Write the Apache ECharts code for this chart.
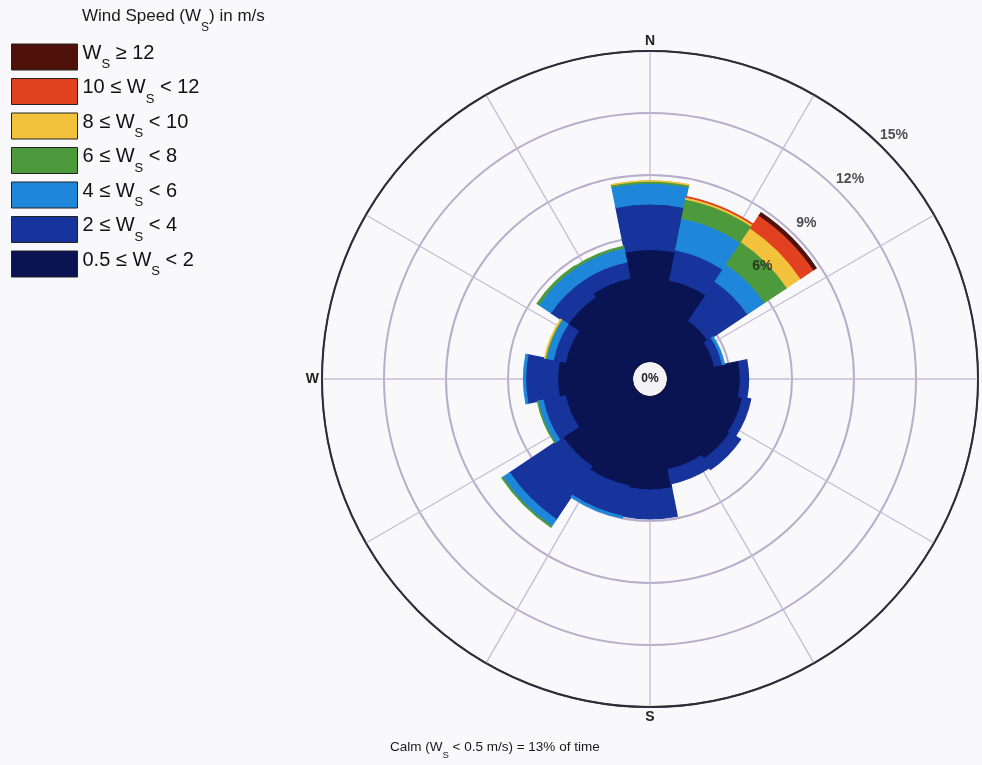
<!DOCTYPE html>
<html>
<head>
<meta charset="utf-8">
<script src="https://cdn.jsdelivr.net/npm/echarts@6/dist/echarts.min.js"></script>
<style>
  html, body { margin: 0; padding: 0; background: #f9f9fb; }
  #chart { width: 982px; height: 765px; }
</style>
</head>
<body>
<div id="chart"></div>
<script>
// Wind directions (16 sectors, clockwise from north)
const directions = ['N', 'NNE', 'NE', 'ENE', 'E', 'ESE', 'SE', 'SSE',
                    'S', 'SSW', 'SW', 'WSW', 'W', 'WNW', 'NW', 'NNW'];

// Frequency (% of time) of each speed band per direction
const ws_0_5to2 = [5.4, 4.0, 2.5, 2.3, 3.5, 3.7, 3.8, 3.6, 4.5, 4.4, 4.2, 3.3, 3.6, 3.3, 3.9, 4.1];
const ws_2to4   = [2.2, 1.5, 2.3, 0.4, 0.4, 0.4, 0.6, 0.7, 1.4, 1.5, 3.1, 1.1, 1.55, 0.6, 1.0, 0.8];
const ws_4to6   = [1.0, 1.56, 1.0, 0.1, 0, 0, 0, 0, 0, 0.1, 0.4, 0.25, 0.1, 0.35, 0.7, 0.7];
const ws_6to8   = [0.1, 0.94, 1.3, 0, 0, 0, 0, 0, 0, 0, 0.05, 0.03, 0, 0.05, 0.1, 0.08];
const ws_8to10  = [0.02, 0.1, 0.8, 0, 0, 0, 0, 0, 0, 0, 0, 0, 0, 0.03, 0, 0];
const ws_10to12 = [0, 0.03, 0.75, 0, 0, 0, 0, 0, 0, 0, 0, 0, 0, 0, 0, 0];
const ws_12up   = [0, 0, 0.15, 0, 0, 0, 0, 0, 0, 0, 0, 0, 0, 0, 0, 0];

// Calm share and ring labels
const calmPercent = 13;
const ringLabels = [6, 9, 12, 15];
const compassAngles = [0, 90, 180, 270];
const compassNames = ['N', 'E', 'S', 'W'];

// Band names and their legend text (S as subscript)
const bandNames = ['0.5-2', '2-4', '4-6', '6-8', '8-10', '10-12', '12+'];
const bandLegend = [
  '{t|0.5 ≤ W}{s|S}{t| < 2}',
  '{t|2 ≤ W}{s|S}{t| < 4}',
  '{t|4 ≤ W}{s|S}{t| < 6}',
  '{t|6 ≤ W}{s|S}{t| < 8}',
  '{t|8 ≤ W}{s|S}{t| < 10}',
  '{t|10 ≤ W}{s|S}{t| < 12}',
  '{t|W}{s|S}{t| ≥ 12}'
];
const bandData = [ws_0_5to2, ws_2to4, ws_4to6, ws_6to8, ws_8to10, ws_10to12, ws_12up];
const bandColors = ['#0b1452', '#17339c', '#1e87d9', '#4d9a3d', '#f2c23c', '#e2411f', '#4f120b'];

// Layout
const CX = 650, CY = 379, R_IN = 18, R_OUT = 328;
const FONT = 'Liberation Sans, Arial, sans-serif';

const chart = echarts.init(document.getElementById('chart'));

const barSeries = bandNames.map((name, i) => ({
  name: name,
  type: 'bar',
  coordinateSystem: 'polar',
  polarIndex: 1,
  stack: 'speed',
  // empty cells are left out so they draw no outline
  data: bandData[i].map(v => (v > 0 ? v : '-')),
  barCategoryGap: '0%',
  // border in the fill colour closes the hairline seams between sectors
  itemStyle: { color: bandColors[i], borderColor: bandColors[i], borderWidth: 1.2 },
  silent: true
}));

const legendText = {};
bandNames.forEach((n, i) => { legendText[n] = bandLegend[i]; });

const option = {
  backgroundColor: '#f9f9fb',
  animation: false,
  title: [
    {
      text: '{t|Wind Speed (W}{s|S}{t|) in m/s}',
      left: 82, top: 8, padding: 0,
      textStyle: {
        fontWeight: 'normal',
        rich: {
          t: { fontFamily: FONT, fontSize: 17, fontWeight: 'normal', color: '#1a1a1a', lineHeight: 26, verticalAlign: 'top' },
          s: { fontFamily: FONT, fontSize: 12, fontWeight: 'normal', color: '#1a1a1a', lineHeight: 26, verticalAlign: 'bottom' }
        }
      }
    },
    {
      text: '{t|Calm (W}{s|S}{t| < 0.5 m/s) = ' + calmPercent + '% of time}',
      left: 390, top: 740, padding: 0,
      textStyle: {
        fontWeight: 'normal',
        rich: {
          t: { fontFamily: FONT, fontSize: 13.5, fontWeight: 'normal', color: '#1a1a1a', lineHeight: 20, verticalAlign: 'top' },
          s: { fontFamily: FONT, fontSize: 9.5, fontWeight: 'normal', color: '#1a1a1a', lineHeight: 20, verticalAlign: 'bottom' }
        }
      }
    }
  ],
  legend: {
    orient: 'vertical',
    left: 11, top: 43,
    padding: 0,
    itemWidth: 66, itemHeight: 26, itemGap: 6.5,
    icon: 'rect',
    selectedMode: false,
    data: bandNames.slice().reverse(),
    formatter: n => legendText[n],
    itemStyle: { borderColor: '#222', borderWidth: 1 },
    textStyle: {
      rich: {
        t: { fontFamily: FONT, fontSize: 20, color: '#111', lineHeight: 28, verticalAlign: 'top' },
        s: { fontFamily: FONT, fontSize: 13, color: '#111', lineHeight: 28, verticalAlign: 'bottom' }
      }
    }
  },
  polar: [
    { center: [CX, CY], radius: [R_IN, R_OUT] },
    { center: [CX, CY], radius: [R_IN, R_OUT] }
  ],
  angleAxis: [
    {
      polarIndex: 0, type: 'value', min: 0, max: 360, interval: 30,
      startAngle: 90, clockwise: true,
      axisLine: { show: true, lineStyle: { color: '#2e2e3a', width: 1.5 } },
      axisTick: { show: false },
      axisLabel: {
        margin: 3, fontFamily: FONT, fontSize: 14, fontWeight: 'bold', color: '#222',
        formatter: v => { const k = compassAngles.indexOf(v); return k >= 0 ? compassNames[k] : ''; }
      },
      splitLine: { show: true, lineStyle: { color: '#c3bdd8', width: 1.3 } }
    },
    {
      polarIndex: 1, type: 'category', data: directions,
      startAngle: 90 + 360 / directions.length / 2, clockwise: true, boundaryGap: true,
      axisLine: { show: false }, axisTick: { show: false },
      axisLabel: { show: false }, splitLine: { show: false }
    }
  ],
  radiusAxis: [
    {
      polarIndex: 0, type: 'value', min: 0, max: 15, interval: 3,
      axisLine: { show: false }, axisTick: { show: false }, axisLabel: { show: false },
      splitLine: {
        show: true,
        lineStyle: { color: ['#222', '#b6aecb', '#b6aecb', '#b6aecb', '#b6aecb', '#2e2e3a'], width: 2 }
      }
    },
    {
      polarIndex: 1, type: 'value', min: 0, max: 15,
      axisLine: { show: false }, axisTick: { show: false },
      axisLabel: { show: false }, splitLine: { show: false }
    }
  ],
  series: barSeries.concat([{
    type: 'scatter',
    coordinateSystem: 'polar',
    polarIndex: 1,
    data: ringLabels.map(v => [v, 'NE']),
    symbolSize: 1,
    itemStyle: { color: 'rgba(0,0,0,0)' },
    z: 5,
    silent: true,
    label: {
      show: true, position: 'inside', offset: [12, -12],
      fontFamily: FONT, fontSize: 14, fontWeight: 'bold', color: '#222',
      formatter: p => p.value[0] + '%'
    }
  }]),
  graphic: [{
    type: 'group',
    z: 100,
    children: [
      { type: 'circle', shape: { cx: CX, cy: CY, r: R_IN }, style: { fill: '#f3f3f7', stroke: '#111', lineWidth: 2 } },
      { type: 'text', x: CX, y: CY, style: { text: '0%', align: 'center', verticalAlign: 'middle',
        fontFamily: FONT, fontSize: 12, fontWeight: 'bold', fill: '#222' } }
    ]
  }]
};

chart.setOption(option);
</script>
</body>
</html>
